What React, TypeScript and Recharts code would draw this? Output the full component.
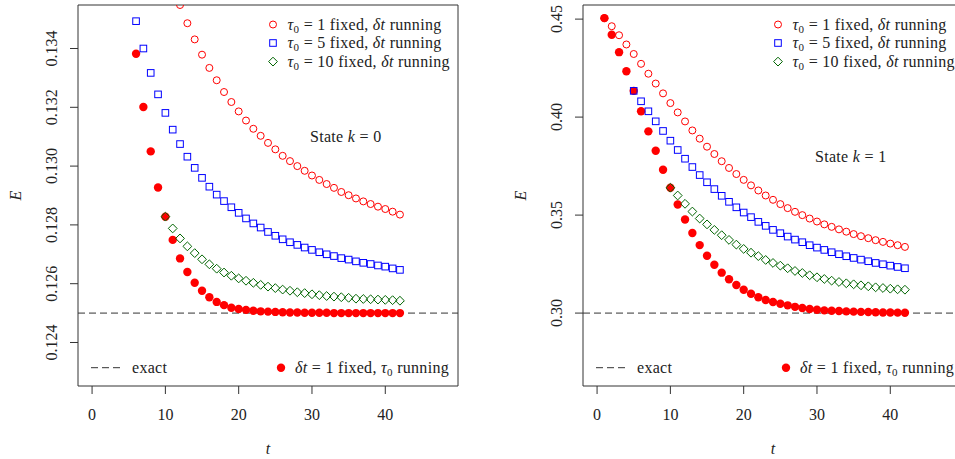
import React from 'react';
import { ScatterChart, Scatter, XAxis, YAxis, ReferenceLine, ReferenceArea } from 'recharts';

// ---------- data ----------
const T_TICKS = [0, 10, 20, 30, 40];
const X_DOMAIN: [number, number] = [-1.92, 49.92];

const K0_Y_TICKS = [0.124, 0.126, 0.128, 0.13, 0.132, 0.134];
const K0_Y_LABELS = ['0.124', '0.126', '0.128', '0.130', '0.132', '0.134'];
const K0_Y_DOMAIN: [number, number] = [0.12252, 0.13548];
const K0_EXACT = 0.125;

const K1_Y_TICKS = [0.3, 0.35, 0.4, 0.45];
const K1_Y_LABELS = ['0.30', '0.35', '0.40', '0.45'];
const K1_Y_DOMAIN: [number, number] = [0.2628, 0.4572];
const K1_EXACT = 0.3;

// State k = 0
const K0_TAU1_START = 12;
const K0_TAU1 = [0.13548, 0.13486, 0.13431, 0.13379, 0.13334, 0.13292, 0.13252, 0.13218, 0.13186, 0.13155,
  0.13127, 0.13103, 0.13079, 0.13057, 0.13035, 0.13017, 0.13, 0.12984, 0.12968, 0.12953, 0.12939, 0.12926,
  0.12912, 0.12901, 0.1289, 0.1288, 0.12871, 0.12862, 0.12854, 0.12845, 0.12835];
const K0_TAU5_START = 6;
const K0_TAU5 = [0.13493, 0.134, 0.13317, 0.13244, 0.13181, 0.13124, 0.13075, 0.13032, 0.12994, 0.1296,
  0.1293, 0.12903, 0.12881, 0.1286, 0.12841, 0.12822, 0.12805, 0.12791, 0.12776, 0.12763, 0.12751, 0.12741,
  0.12732, 0.12723, 0.12715, 0.12707, 0.127, 0.12694, 0.12687, 0.12682, 0.12676, 0.12671, 0.12667, 0.12662,
  0.12658, 0.12652, 0.12647];
const K0_TAU10_START = 10;
const K0_TAU10 = [0.12828, 0.12788, 0.12754, 0.12727, 0.12704, 0.12683, 0.12666, 0.12651, 0.12638, 0.12627,
  0.12618, 0.1261, 0.12603, 0.12596, 0.1259, 0.12585, 0.1258, 0.12576, 0.12571, 0.12568, 0.12564, 0.12561,
  0.12558, 0.12556, 0.12554, 0.12552, 0.12549, 0.12548, 0.12547, 0.12546, 0.12545, 0.12544, 0.12542];
const K0_DT1_START = 6;
const K0_DT1 = [0.13382, 0.13201, 0.1305, 0.12927, 0.12828, 0.12749, 0.12686, 0.1264, 0.12603, 0.12576,
  0.12554, 0.12538, 0.12527, 0.12518, 0.12514, 0.12511, 0.12508, 0.12506, 0.12505, 0.12504, 0.12503, 0.12502,
  0.12502, 0.12501, 0.12501, 0.12501, 0.12501, 0.125, 0.125, 0.125, 0.125, 0.125, 0.125, 0.125, 0.125, 0.125, 0.125];

// State k = 1
const K1_TAU1_START = 1;
const K1_TAU1 = [0.4505, 0.44637, 0.44177, 0.43706, 0.4322, 0.42719, 0.42213, 0.41712, 0.41211, 0.40715,
  0.40239, 0.39779, 0.39319, 0.389, 0.3849, 0.38117, 0.37749, 0.37406, 0.37095, 0.36798, 0.36517, 0.36256,
  0.36, 0.3578, 0.3556, 0.35356, 0.35167, 0.34998, 0.34824, 0.34671, 0.34527, 0.344, 0.34272, 0.34154,
  0.34031, 0.33924, 0.33822, 0.3372, 0.33633, 0.33546, 0.33464, 0.33377];
const K1_TAU5_START = 5;
const K1_TAU5 = [0.41339, 0.40807, 0.40296, 0.39784, 0.39293, 0.38797, 0.38322, 0.37877, 0.37452, 0.37043,
  0.36675, 0.36327, 0.35985, 0.35678, 0.35397, 0.35131, 0.34896, 0.34655, 0.34451, 0.34246, 0.34077, 0.33904,
  0.3375, 0.33617, 0.33464, 0.33341, 0.33224, 0.33106, 0.33004, 0.32901, 0.32814, 0.32728, 0.32646, 0.32559,
  0.32492, 0.32421, 0.32354, 0.32288];
const K1_TAU10_START = 10;
const K1_TAU10 = [0.36394, 0.36, 0.35576, 0.35182, 0.34824, 0.34527, 0.34246, 0.33975, 0.33735, 0.33495,
  0.33275, 0.3308, 0.32907, 0.32712, 0.32559, 0.32421, 0.32288, 0.3215, 0.32047, 0.3193, 0.31828, 0.31741,
  0.31654, 0.31587, 0.31521, 0.3147, 0.31418, 0.31367, 0.31316, 0.3128, 0.31244, 0.31214, 0.31193];
const K1_DT1_START = 1;
const K1_DT1 = [0.4505, 0.44202, 0.43313, 0.42341, 0.41339, 0.40296, 0.39273, 0.38286, 0.37314, 0.36394,
  0.3554, 0.34773, 0.34083, 0.33469, 0.32927, 0.32467, 0.32063, 0.31725, 0.31434, 0.31188, 0.30989, 0.3081,
  0.30667, 0.30565, 0.30477, 0.30396, 0.30319, 0.30258, 0.30207, 0.30171, 0.3014, 0.3012, 0.30104, 0.30089,
  0.30074, 0.30063, 0.30053, 0.30043, 0.30033, 0.30028, 0.30023, 0.30018];

// ---------- styles ----------
const RED = '#FF0000';
const BLUE = '#0000FF';
const GREEN = '#006400';
const INK = '#222222';
const FONT = "'Liberation Serif', 'DejaVu Serif', serif";
const FS = 16;

const toPoints = (start: number, vals: number[]) => vals.map((e, i) => ({ t: start + i, e }));

const OpenCircle = (p: any) => <circle cx={p.cx} cy={p.cy} r={3.5} fill="none" stroke={RED} strokeWidth={1} />;
const FilledCircle = (p: any) => <circle cx={p.cx} cy={p.cy} r={4.2} fill={RED} stroke="none" />;
const OpenSquare = (p: any) => (
  <rect x={p.cx - 3.3} y={p.cy - 3.3} width={6.6} height={6.6} fill="none" stroke={BLUE} strokeWidth={1} />
);
const OpenDiamond = (p: any) => (
  <path d={`M${p.cx},${p.cy - 4.4}L${p.cx + 4.4},${p.cy}L${p.cx},${p.cy + 4.4}L${p.cx - 4.4},${p.cy}Z`}
    fill="none" stroke={GREEN} strokeWidth={1} />
);

const Tau = ({ n }: { n: string }) => (
  <>
    <tspan fontStyle="italic">τ</tspan>
    <tspan fontSize={11} dy={3}>0</tspan>
    <tspan dy={-3}>{` = ${n} fixed, `}</tspan>
    <tspan fontStyle="italic">δt</tspan>
    <tspan> running</tspan>
  </>
);

type Pt = { t: number; e: number };
type PanelProps = {
  left: number;
  yDomain: [number, number];
  yTicks: number[];
  yLabels: string[];
  exact: number;
  tau1: Pt[];
  tau5: Pt[];
  tau10: Pt[];
  dt1: Pt[];
  state: string;
  stateY: number;
};

function Panel(props: PanelProps) {
  const { left, yDomain, yTicks, yLabels, exact, tau1, tau5, tau10, dt1, state, stateY } = props;

  const XTick = (p: any) => (
    <text x={p.x} y={420} textAnchor="middle" fontFamily={FONT} fontSize={FS} fill={INK}>
      {String(p.payload.value)}
    </text>
  );
  const YTick = (p: any) => {
    const idx = yTicks.findIndex((v) => Math.abs(v - p.payload.value) < 1e-9);
    const x = 57.5;
    return (
      <text x={x} y={p.y} transform={`rotate(-90 ${x} ${p.y})`} textAnchor="middle"
        fontFamily={FONT} fontSize={FS} fill={INK}>
        {idx >= 0 ? yLabels[idx] : ''}
      </text>
    );
  };

  return (
    <div style={{ position: 'absolute', left, top: 0, width: 480, height: 459 }}>
      <ScatterChart width={480} height={459} margin={{ top: 5, right: 22, bottom: 0, left: 0 }}>
        <XAxis type="number" dataKey="t" domain={X_DOMAIN} ticks={T_TICKS} allowDataOverflow
          axisLine={false} tickSize={8} tickLine={{ stroke: '#333' }} height={73} tick={XTick}
          interval={0}
          label={{
            content: (lp: any) => {
              const vb = lp.viewBox || { x: 78, y: 386, width: 380 };
              return (
                <text x={vb.x + vb.width / 2} y={453.5} textAnchor="middle" fontFamily={FONT}
                  fontSize={FS} fontStyle="italic" fill={INK}>t</text>
              );
            },
          }} />
        <YAxis type="number" dataKey="e" domain={yDomain} ticks={yTicks} allowDataOverflow
          axisLine={false} tickSize={8} tickLine={{ stroke: '#333' }} width={78} tick={YTick} interval={0}
          label={{
            content: (lp: any) => {
              const vb = lp.viewBox || { x: 0, y: 5, height: 381 };
              const cy = vb.y + vb.height / 2;
              return (
                <text x={20.5} y={cy} transform={`rotate(-90 20.5 ${cy})`} textAnchor="middle" fontFamily={FONT}
                  fontSize={FS} fontStyle="italic" fill={INK}>E</text>
              );
            },
          }} />
        <ReferenceArea x1={X_DOMAIN[0]} x2={X_DOMAIN[1]} y1={yDomain[0]} y2={yDomain[1]}
          fill="none" fillOpacity={0} stroke="#333" strokeWidth={1} ifOverflow="visible" />
        <ReferenceLine y={exact} stroke="#333" strokeWidth={1} strokeDasharray="7 4" />
        <Scatter data={dt1} shape={FilledCircle} isAnimationActive={false} />
        <Scatter data={tau1} shape={OpenCircle} isAnimationActive={false} />
        <Scatter data={tau5} shape={OpenSquare} isAnimationActive={false} />
        <Scatter data={tau10} shape={OpenDiamond} isAnimationActive={false} />
      </ScatterChart>
      <svg width={480} height={459} style={{ position: 'absolute', left: 0, top: 0, pointerEvents: 'none' }}
        fontFamily={FONT} fontSize={FS} fill={INK} letterSpacing={0.3}>
        {/* top legend */}
        <circle cx={273} cy={24.5} r={3.5} fill="none" stroke={RED} />
        <text x={287.5} y={29.8}><Tau n="1" /></text>
        <rect x={269.7} y={39.7} width={6.6} height={6.6} fill="none" stroke={BLUE} />
        <text x={287.5} y={48.3}><Tau n="5" /></text>
        <path d="M273,57.2L277.4,61.6L273,66L268.6,61.6Z" fill="none" stroke={GREEN} />
        <text x={287.5} y={66.8}><Tau n="10" /></text>
        {/* state label */}
        <text x={310} y={stateY}>
          <tspan>State </tspan>
          <tspan fontStyle="italic">k</tspan>
          <tspan>{` = ${state}`}</tspan>
        </text>
        {/* bottom legend */}
        <line x1={91} x2={120} y1={367.7} y2={367.7} stroke="#333" strokeDasharray="7 4" />
        <text x={132} y={372.5}>exact</text>
        <circle cx={281} cy={367.7} r={4.2} fill={RED} />
        <text x={295} y={372.5}>
          <tspan fontStyle="italic">δt</tspan>
          <tspan> = 1 fixed, </tspan>
          <tspan fontStyle="italic">τ</tspan>
          <tspan fontSize={11} dy={3}>0</tspan>
          <tspan dy={-3}> running</tspan>
        </text>
      </svg>
    </div>
  );
}

export default function App() {
  return (
    <div style={{ position: 'absolute', left: 0, top: 0, width: 955, height: 459, overflow: 'hidden', background: '#fff' }}>
      <Panel left={0} yDomain={K0_Y_DOMAIN} yTicks={K0_Y_TICKS} yLabels={K0_Y_LABELS} exact={K0_EXACT}
        tau1={toPoints(K0_TAU1_START, K0_TAU1)} tau5={toPoints(K0_TAU5_START, K0_TAU5)}
        tau10={toPoints(K0_TAU10_START, K0_TAU10)} dt1={toPoints(K0_DT1_START, K0_DT1)}
        state="0" stateY={141.5} />
      <Panel left={504.6} yDomain={K1_Y_DOMAIN} yTicks={K1_Y_TICKS} yLabels={K1_Y_LABELS} exact={K1_EXACT}
        tau1={toPoints(K1_TAU1_START, K1_TAU1)} tau5={toPoints(K1_TAU5_START, K1_TAU5)}
        tau10={toPoints(K1_TAU10_START, K1_TAU10)} dt1={toPoints(K1_DT1_START, K1_DT1)}
        state="1" stateY={162} />
    </div>
  );
}
